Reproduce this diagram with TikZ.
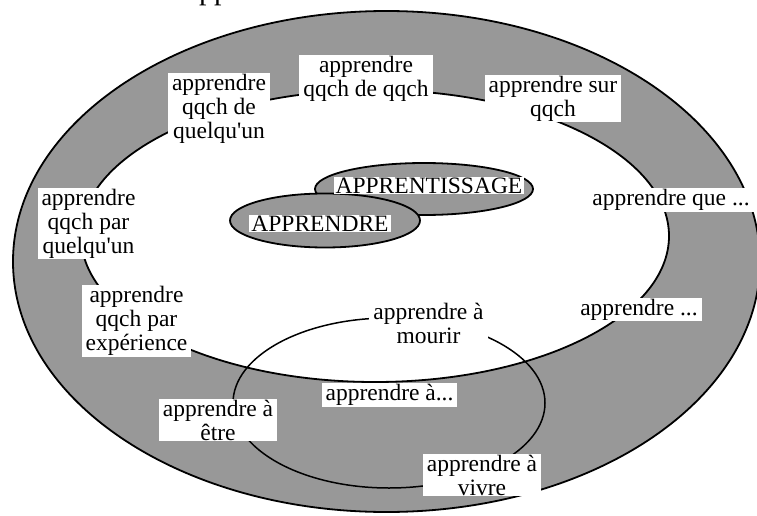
\documentclass[tikz,border=0pt]{standalone}
\usepackage{fontspec}
\setmainfont{Liberation Serif}
\usetikzlibrary{shapes.geometric}
\definecolor{ringgray}{RGB}{152,152,152}
\begin{document}
\begin{tikzpicture}[x=1pt,y=-1pt,
  lbl/.style={fill=white, inner xsep=4pt, inner ysep=1pt, align=center,
    font=\fontsize{23.5}{24}\selectfont},
  ringshape/.style={ellipse, draw=black, line width=1.8pt, inner sep=0pt},
]
\useasboundingbox (0,0) rectangle (757,516);
\clip (0,0) rectangle (757,516);
% title fragment (cut by the top edge)
\node[anchor=base west, inner sep=0pt, font=\fontsize{30}{30}\selectfont] (titlefrag) at (199,0) {pp};
% rings
\node[ringshape, fill=ringgray, minimum width=747pt, minimum height=501pt] (outer) at (386.5,261.5) {};
\node[ringshape, fill=white, minimum width=588pt, minimum height=292pt] (inner) at (375,236) {};
\node[ringshape, line width=1.5pt, minimum width=312pt, minimum height=170pt] (mourirell) at (389,403) {};
\node[ringshape, fill=ringgray, minimum width=218pt, minimum height=52pt] (appell) at (424,189) {};
\node[ringshape, fill=ringgray, minimum width=190pt, minimum height=54pt] (apdrell) at (325,220.5) {};
% labels
\node[lbl] (lqdq) at (219,108.5) {apprendre\\qqch de\\quelqu\textquotesingle un};
\node[lbl] (lqdqqch) at (366,78.5) {apprendre\\qqch de qqch};
\node[lbl] (lsur) at (553,98.5) {apprendre sur\\qqch};
\node[lbl] (lque) at (671,200) {apprendre que ...};
\node[lbl] (lparqu) at (88.5,223.5) {apprendre\\qqch par\\quelqu\textquotesingle un};
\node[lbl] (lparexp) at (136.5,321) {apprendre\\qqch par\\expérience};
\node[lbl] (lmourir) at (428.5,323) {apprendre à\\mourir};
\node[lbl] (ladots) at (389.5,395) {apprendre à...};
\node[lbl] (letre) at (218,420) {apprendre à\\être};
\node[lbl] (lvivre) at (482,475) {apprendre à\\vivre};
\node[lbl] (ldots) at (639,309.5) {apprendre ...};
\node[lbl, inner xsep=2pt] (lappr) at (429,185.5) {APPRENTISSAGE};
\node[lbl, inner xsep=2pt] (lapdr) at (320,223.5) {APPRENDRE};
\end{tikzpicture}
\end{document}
